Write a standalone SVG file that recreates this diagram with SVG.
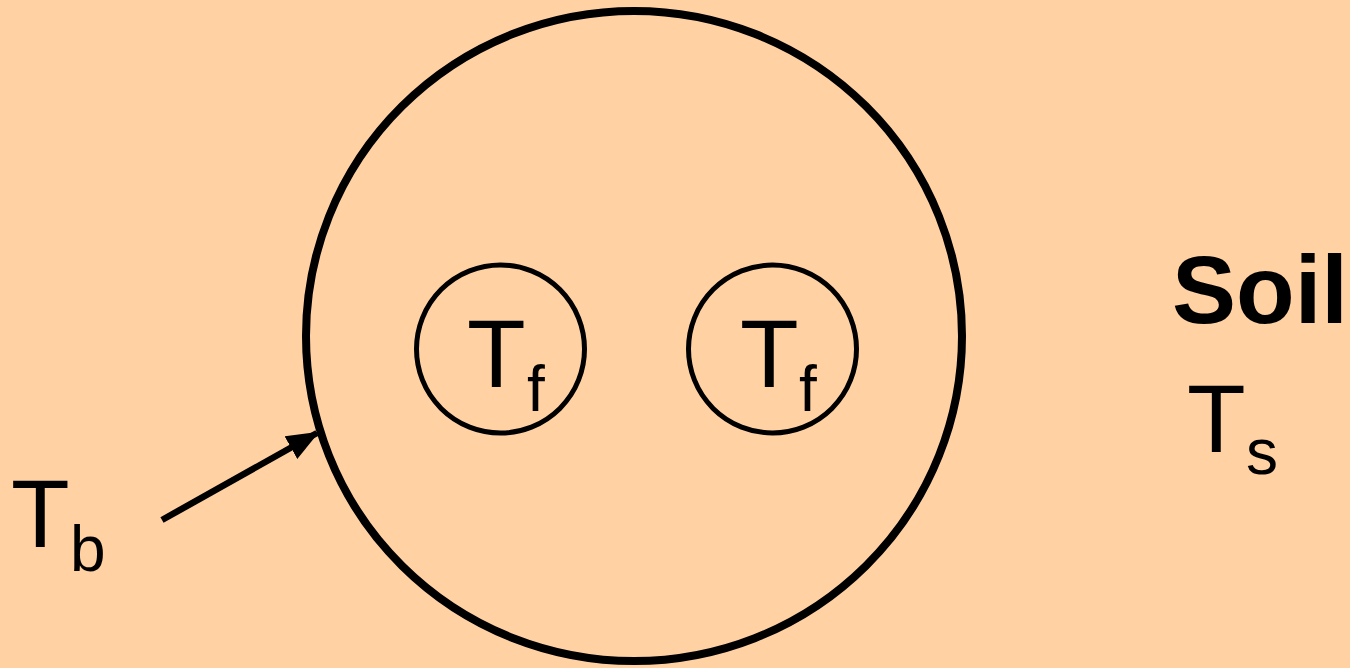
<svg xmlns="http://www.w3.org/2000/svg" width="1350" height="668" viewBox="0 0 1350 668">
<style>
.t{font-family:"Liberation Sans",Arial,sans-serif;fill:#000}
.big{font-size:96px}
.sub{font-size:64px}
.ring{fill:none;stroke:#000}
</style>
<defs>
<marker id="ah" markerWidth="5" markerHeight="4" refX="4.6" refY="2" orient="auto" markerUnits="strokeWidth">
<path d="M0,0 L5,2 L0,4 Z" fill="#000"/>
</marker>
</defs>
<rect width="1350" height="668" fill="#FFD1A3"/>
<g id="borehole">
<ellipse class="ring" cx="634" cy="336" rx="328" ry="325" stroke-width="8"/>
</g>
<g id="pipe1">
<circle class="ring" cx="500.5" cy="349" r="84" stroke-width="5"/>
<text class="t big" x="467" y="387">T</text>
<text class="t sub" x="527" y="411">f</text>
</g>
<g id="pipe2">
<circle class="ring" cx="772.5" cy="349" r="84" stroke-width="5"/>
<text class="t big" x="740" y="387">T</text>
<text class="t sub" x="799" y="411">f</text>
</g>
<g id="tb">
<text class="t big" x="11" y="547">T</text>
<text class="t sub" x="70" y="571">b</text>
</g>
<g id="soil">
<text class="t" x="1172" y="323" font-size="96" font-weight="bold">Soil</text>
<text class="t big" x="1187" y="452">T</text>
<text class="t sub" x="1246" y="474">s</text>
</g>
<g id="connectors">
<line x1="162" y1="520" x2="317" y2="433" stroke="#000" stroke-width="6.5" marker-end="url(#ah)"/>
</g>
</svg>
